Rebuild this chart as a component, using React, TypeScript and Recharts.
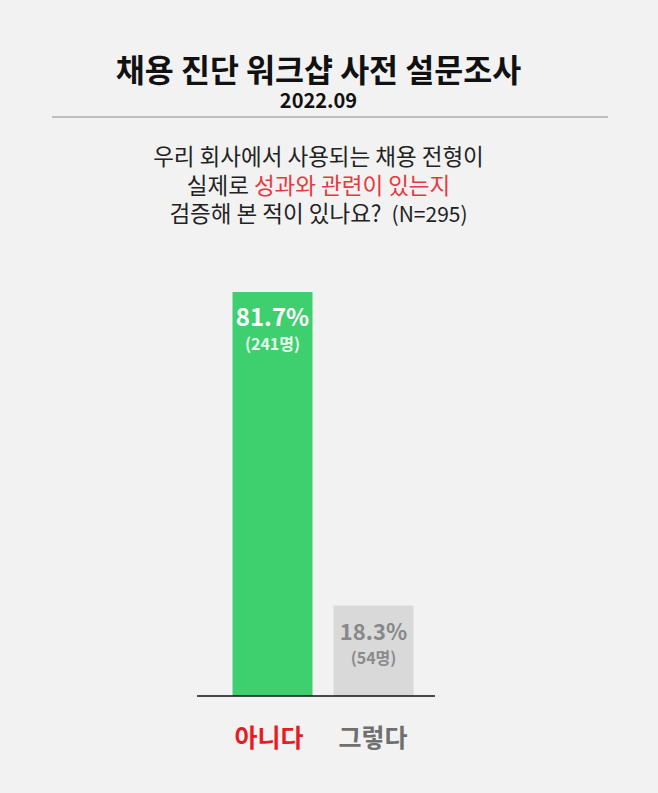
import { BarChart, Bar, XAxis, YAxis, Cell, LabelList } from 'recharts';

const categories = ['아니다', '그렇다'];
const percents = [81.7, 18.3];
const counts = [241, 54];

const barColors = ['#3ecf6f', '#d9d9d9'];
const labelColors = ['#ffffff', '#888888'];
const subLabelColors = ['#e9f9ee', '#8a8a8a'];
const tickColors = ['#e51c23', '#6f6f6f'];

const FONT = '"Noto Sans CJK KR", "Noto Sans", sans-serif';

const chartData = categories.map((name, i) => ({
  name,
  value: percents[i],
  count: counts[i],
}));

const BarLabel = (props: any) => {
  const { x, y, width, index, value } = props;
  const cx = x + width / 2;
  return (
    <g>
      <text
        x={cx}
        y={y + 34}
        textAnchor="middle"
        fill={labelColors[index]}
        fontSize={index === 0 ? 24 : 22}
        fontWeight={700}
        fontFamily={FONT}
      >
        {`${value}%`}
      </text>
      <text
        x={cx}
        y={y + 58}
        textAnchor="middle"
        fill={subLabelColors[index]}
        fontSize={16}
        fontWeight={700}
        fontFamily={FONT}
      >
        {`(${counts[index]}명)`}
      </text>
    </g>
  );
};

const CategoryTick = (props: any) => {
  const { x, y, payload, index } = props;
  return (
    <text
      x={index === 0 ? x - 3 : x}
      y={y + 43}
      textAnchor="middle"
      fill={tickColors[index]}
      fontSize={25}
      fontWeight={700}
      fontFamily={FONT}
    >
      {payload.value}
    </text>
  );
};

export default function App() {
  return (
    <div
      style={{
        position: 'absolute',
        left: 0,
        top: 0,
        width: 658,
        height: 793,
        background: '#f2f2f2',
        fontFamily: FONT,
        overflow: 'hidden',
      }}
    >
      <div
        style={{
          position: 'absolute', top: 53, left: 0, width: 637, textAlign: 'center',
          fontSize: 31.5, lineHeight: '31px', fontWeight: 700, color: '#111',
        }}
      >
        채용 진단 워크샵 사전 설문조사
      </div>
      <div
        style={{
          position: 'absolute', top: 90, left: 0, width: 637, textAlign: 'center',
          fontSize: 20, lineHeight: '20px', fontWeight: 700, color: '#111',
        }}
      >
        2022.09
      </div>
      <div
        style={{
          position: 'absolute', top: 116, left: 52, width: 556, height: 2,
          background: '#bdbdbd',
        }}
      />
      <div
        style={{
          position: 'absolute', top: 141, left: 0, width: 637, textAlign: 'center',
          fontSize: 22.5, lineHeight: '28.5px', color: '#222',
        }}
      >
        <div>우리 회사에서 사용되는 채용 전형이</div>
        <div>
          실제로 <span style={{ color: '#e5383f' }}>성과와 관련이 있는지</span>
        </div>
        <div>검증해 본 적이 있나요?&nbsp; <span style={{ fontSize: 21 }}>(N=295)</span></div>
      </div>

      <div style={{ position: 'absolute', left: 0, top: 0 }}>
        <BarChart
          width={658}
          height={793}
          data={chartData}
          margin={{ top: 201.5, right: 223, left: 197, bottom: 37 }}
        >
          <YAxis hide domain={[0, 100]} />
          <XAxis
            dataKey="name"
            height={60}
            padding={{ left: 24.5, right: 11.5 }}
            axisLine={{ stroke: '#111', strokeWidth: 1.5 }}
            tickLine={false}
            tick={<CategoryTick />}
            interval={0}
          />
          <Bar dataKey="value" barSize={80} isAnimationActive={false}>
            {chartData.map((d, i) => (
              <Cell key={d.name} fill={barColors[i]} />
            ))}
            <LabelList dataKey="value" content={<BarLabel />} />
          </Bar>
        </BarChart>
      </div>
    </div>
  );
}
